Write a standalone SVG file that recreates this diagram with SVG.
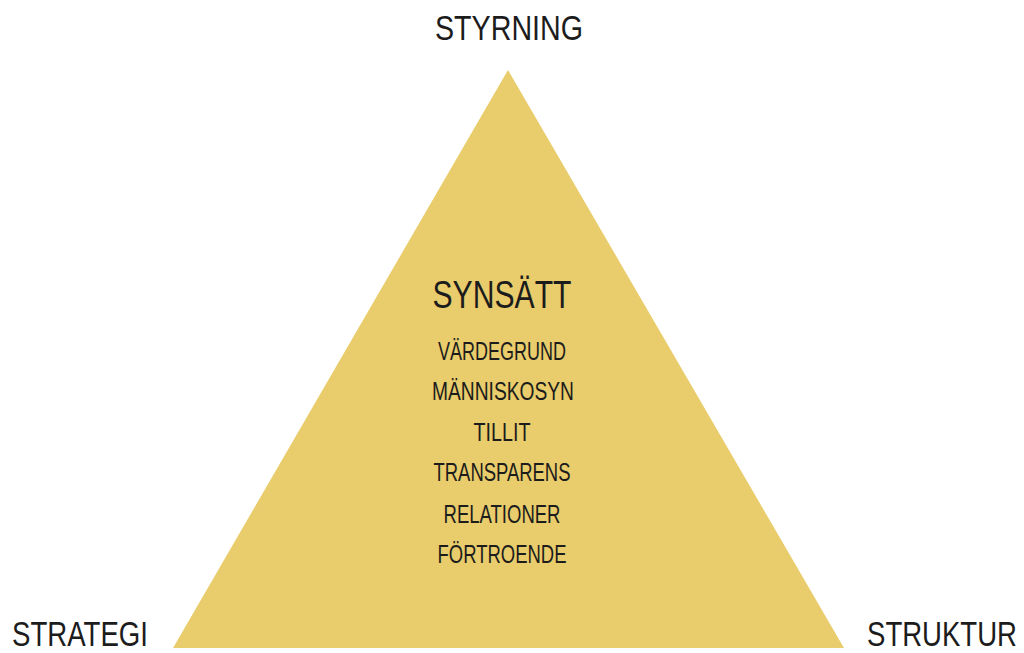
<svg xmlns="http://www.w3.org/2000/svg" width="1024" height="653" viewBox="0 0 1024 653">
<style>
text{font-family:"Liberation Sans","DejaVu Sans",sans-serif;fill:#1c1c1c;text-anchor:middle}
.big{font-size:35px}
.title{font-size:39px}
.item{font-size:25px}
</style>
<rect width="1024" height="653" fill="#ffffff"/>
<g id="pyramid">
<polygon points="508,70 844,648 173,648" fill="#E9CC6B"/>
</g>
<g id="connectors"></g>
<g id="styrning"><text class="big" x="509" y="40" textLength="148" lengthAdjust="spacingAndGlyphs">STYRNING</text></g>
<g id="strategi"><text class="big" x="80" y="646" textLength="136" lengthAdjust="spacingAndGlyphs">STRATEGI</text></g>
<g id="struktur"><text class="big" x="942" y="646" textLength="150" lengthAdjust="spacingAndGlyphs">STRUKTUR</text></g>
<g id="synsatt">
<text class="title" x="502" y="308" textLength="139" lengthAdjust="spacingAndGlyphs">SYNSÄTT</text>
<text class="item" x="502" y="360" textLength="128" lengthAdjust="spacingAndGlyphs">VÄRDEGRUND</text>
<text class="item" x="503" y="400" textLength="142" lengthAdjust="spacingAndGlyphs">MÄNNISKOSYN</text>
<text class="item" x="502" y="441" textLength="57" lengthAdjust="spacingAndGlyphs">TILLIT</text>
<text class="item" x="502" y="481" textLength="137" lengthAdjust="spacingAndGlyphs">TRANSPARENS</text>
<text class="item" x="502" y="523" textLength="117" lengthAdjust="spacingAndGlyphs">RELATIONER</text>
<text class="item" x="502" y="563" textLength="129" lengthAdjust="spacingAndGlyphs">FÖRTROENDE</text>
</g>
</svg>
